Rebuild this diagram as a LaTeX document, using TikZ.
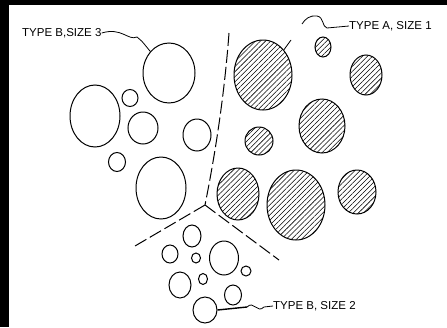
\documentclass[tikz,border=0pt]{standalone}
\usepackage{fontspec}
\setmainfont{Liberation Sans}
\usetikzlibrary{shapes.geometric,patterns.meta}
\tikzset{
  typeb/.style={ellipse, draw, line width=1pt, inner sep=0pt},
  typea/.style={typeb, pattern={Lines[angle=45,distance=3.6pt,line width=0.55pt]}},
  lbl/.style={font=\fontsize{11.5}{12}\selectfont, inner sep=0pt, anchor=west},
  divider/.style={line width=1pt, dash pattern=on 13pt off 4pt},
  leader/.style={line width=0.8pt}
}
\begin{document}
\begin{tikzpicture}[x=1pt,y=-1pt]
\useasboundingbox (0,0) rectangle (447,327);
\fill[white] (0,0) rectangle (447,327);
\fill[black] (0,0) rectangle (447,5);
\fill[black] (0,0) rectangle (9,327);

% Type B (open) circles, upper left
\node[typeb, minimum width=52pt, minimum height=60pt] (b1) at (169,73) {};
\node[typeb, minimum width=50pt, minimum height=62pt] (b2) at (95,116) {};
\node[typeb, minimum width=16pt, minimum height=17pt] (b3) at (130,98) {};
\node[typeb, minimum width=30pt, minimum height=32pt] (b4) at (143,128) {};
\node[typeb, minimum width=28pt, minimum height=32pt] (b5) at (197,135) {};
\node[typeb, minimum width=17pt, minimum height=19pt] (b6) at (117,162) {};
\node[typeb, minimum width=50pt, minimum height=62pt] (b7) at (161,188) {};

% Type A (hatched) circles
\node[typea, minimum width=58pt, minimum height=70pt] (a1) at (263,75) {};
\node[typea, minimum width=16pt, minimum height=20pt] (a2) at (323,47) {};
\node[typea, minimum width=32pt, minimum height=40pt] (a3) at (366,75) {};
\node[typea, minimum width=46pt, minimum height=54pt] (a4) at (322,126) {};
\node[typea, minimum width=28pt, minimum height=28pt] (a5) at (259,141) {};
\node[typea, minimum width=42pt, minimum height=52pt] (a6) at (238,194) {};
\node[typea, minimum width=58pt, minimum height=70pt] (a7) at (296,205) {};
\node[typea, minimum width=38pt, minimum height=44pt] (a8) at (357,192) {};

% Type B small circles, bottom
\node[typeb, minimum width=18pt, minimum height=22pt] (s1) at (192,236) {};
\node[typeb, minimum width=16pt, minimum height=18pt] (s2) at (170,254) {};
\node[typeb, minimum width=9pt, minimum height=10pt] (s3) at (196,258) {};
\node[typeb, minimum width=29pt, minimum height=34pt] (s4) at (224,258) {};
\node[typeb, minimum width=10pt, minimum height=10pt] (s5) at (246,271) {};
\node[typeb, minimum width=22pt, minimum height=26pt] (s6) at (180,285) {};
\node[typeb, minimum width=9pt, minimum height=11pt] (s7) at (203,279) {};
\node[typeb, minimum width=17pt, minimum height=20pt] (s8) at (233,295) {};
\node[typeb, minimum width=24pt, minimum height=26pt] (s9) at (205,310) {};

% dividing lines
\coordinate (top) at (229,33);
\coordinate (jn) at (205,205);
\coordinate (lend) at (135,246);
\coordinate (rend) at (279,260);
\draw[divider] (top) .. controls (224,100) and (214,160) .. (jn);
\draw[divider] (jn) -- (lend);
\draw[divider] (jn) -- (rend);

% labels
\node[lbl] (lb3) at (22,33) {TYPE B,SIZE 3};
\node[lbl] (la1) at (349,26) {TYPE A, SIZE 1};
\node[lbl] (lb2) at (273,306) {TYPE B, SIZE 2};

% leaders
\draw[leader] (lb3.east) .. controls (122,27) and (128,41) .. (137,37)
  .. controls (141,40) .. (b1.north west);
\coordinate (hook) at (302,24);
\draw[leader] (la1.west) -- (327,28) .. controls (322,27) and (324,17) .. (317,16)
  .. controls (310,15) and (305,19) .. (hook);
\coordinate (tick) at (291,40);
\draw[leader] (a1.north east) -- (tick);
\draw[line width=1.4pt] (s9.east) -- (247,307);
\draw[leader] (247,307) .. controls (254,300) and (257,314) .. (264,307) -- (lb2.west);
\end{tikzpicture}
\end{document}
